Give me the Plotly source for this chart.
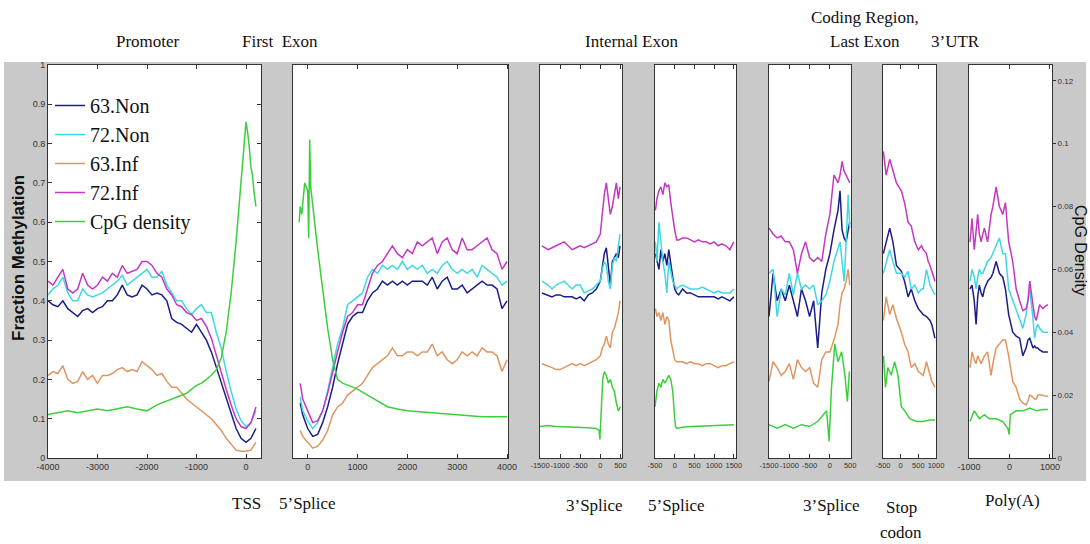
import plotly.graph_objects as go

# ---------------- data ----------------
series_names = ["63.Non", "72.Non", "63.Inf", "72.Inf", "CpG density"]
series_colors = ["#1c1c86", "#3fd8e2", "#de9560", "#c437c4", "#3ccf3c"]

panel_ranges = [[-4000, 303], [-295, 4020], [-1500, 540], [-500, 1555],
                [-1500, 520], [-500, 1000], [-1000, 1050]]
panel_ticks = [[-4000, -3000, -2000, -1000, 0], [0, 1000, 2000, 3000, 4000],
               [-1500, -1000, -500, 0, 500], [-500, 0, 500, 1000, 1500],
               [-1500, -1000, -500, 0, 500], [-500, 0, 500, 1000], [-1000, 0, 1000]]
panel_ticktext = [["-4000", "-3000", "-2000", "-1000", "0"], ["0", "1000", "2000", "3000", "4000"],
                  ["-1500", "-1000", "-500", "0", "500"], ["-500", "0", "500", "1000", "1500"],
                  ["-1500", "-1000", "-500", "0", "500"], ["-500", "0", "500", "1000"],
                  ["-1000", "0", "1000"]]
meth_ticks = [0, 0.1, 0.2, 0.3, 0.4, 0.5, 0.6, 0.7, 0.8, 0.9, 1]
meth_ticktext = ["0", "0.1", "0.2", "0.3", "0.4", "0.5", "0.6", "0.7", "0.8", "0.9", "1"]
cpg_ticks = [0, 0.02, 0.04, 0.06, 0.08, 0.1, 0.12]
cpg_ticktext = ["0", "0.02", "0.04", "0.06", "0.08", "0.1", "0.12"]

# Panel 1: Promoter / TSS
p1_x = [-4000, -3900, -3800, -3700, -3600, -3500, -3400, -3300, -3200, -3100, -3000, -2900, -2800,
        -2700, -2600, -2500, -2400, -2300, -2200, -2100, -2000, -1900, -1800, -1700, -1600, -1500,
        -1400, -1300, -1200, -1100, -1000, -900, -800, -700, -600, -500, -400, -300, -200, -100, 0, 100, 200]
p1_non63 = [0.40, 0.39, 0.385, 0.40, 0.38, 0.37, 0.36, 0.375, 0.38, 0.37, 0.38, 0.385, 0.40, 0.40, 0.415,
            0.44, 0.415, 0.41, 0.415, 0.44, 0.43, 0.415, 0.42, 0.415, 0.40, 0.355, 0.345, 0.34, 0.33, 0.32,
            0.34, 0.32, 0.30, 0.27, 0.23, 0.19, 0.15, 0.11, 0.075, 0.05, 0.04, 0.05, 0.075]
p1_non72 = [0.415, 0.43, 0.44, 0.46, 0.42, 0.40, 0.40, 0.43, 0.415, 0.41, 0.415, 0.42, 0.43, 0.44, 0.45,
            0.465, 0.44, 0.45, 0.46, 0.47, 0.48, 0.46, 0.46, 0.475, 0.44, 0.42, 0.40, 0.40, 0.38, 0.365,
            0.38, 0.39, 0.37, 0.37, 0.32, 0.28, 0.22, 0.17, 0.125, 0.095, 0.08, 0.09, 0.12]
p1_inf63 = [0.21, 0.22, 0.215, 0.235, 0.20, 0.19, 0.195, 0.22, 0.20, 0.21, 0.19, 0.21, 0.21, 0.215, 0.225,
            0.23, 0.22, 0.225, 0.22, 0.245, 0.235, 0.225, 0.21, 0.215, 0.195, 0.18, 0.18, 0.165, 0.15, 0.14,
            0.13, 0.12, 0.11, 0.10, 0.085, 0.07, 0.05, 0.035, 0.02, 0.017, 0.017, 0.02, 0.04]
p1_inf72 = [0.45, 0.44, 0.46, 0.48, 0.43, 0.42, 0.43, 0.47, 0.44, 0.43, 0.44, 0.46, 0.45, 0.47, 0.46,
            0.49, 0.47, 0.475, 0.48, 0.50, 0.50, 0.49, 0.47, 0.46, 0.43, 0.415, 0.39, 0.385, 0.37, 0.365,
            0.35, 0.355, 0.335, 0.305, 0.26, 0.215, 0.175, 0.135, 0.10, 0.08, 0.075, 0.09, 0.13]
p1_cpg_x = [-4000, -3800, -3600, -3400, -3200, -3000, -2800, -2600, -2400, -2200, -2000, -1800, -1600,
            -1400, -1200, -1000, -900, -800, -700, -600, -500, -400, -300, -200, -100, -50, 0, 30, 60,
            100, 130, 160, 200]
p1_cpg = [0.0138, 0.0144, 0.015, 0.0144, 0.015, 0.0156, 0.015, 0.0156, 0.0163, 0.0156, 0.015, 0.0169,
          0.0181, 0.0194, 0.0206, 0.0231, 0.0238, 0.025, 0.0263, 0.0281, 0.0319, 0.04, 0.0525, 0.0688,
          0.0875, 0.0975, 0.1069, 0.1038, 0.1, 0.0925, 0.09, 0.085, 0.08]

# Panel 2: First exon / 5' splice
p2_x = [-150, -100, 0, 100, 200, 300, 400, 500, 600, 700, 800, 900, 1000, 1100, 1200, 1300, 1400, 1500,
        1600, 1700, 1800, 1900, 2000, 2100, 2200, 2300, 2400, 2500, 2600, 2700, 2800, 2900, 3000, 3100,
        3200, 3300, 3400, 3500, 3600, 3700, 3800, 3900, 4000]
p2_non63 = [0.14, 0.11, 0.075, 0.055, 0.06, 0.09, 0.13, 0.18, 0.24, 0.29, 0.34, 0.36, 0.37, 0.37, 0.40,
            0.42, 0.43, 0.45, 0.44, 0.45, 0.44, 0.45, 0.44, 0.45, 0.45, 0.45, 0.44, 0.46, 0.43, 0.45, 0.46,
            0.43, 0.43, 0.44, 0.42, 0.43, 0.44, 0.45, 0.44, 0.44, 0.43, 0.38, 0.40]
p2_non72 = [0.155, 0.12, 0.095, 0.075, 0.09, 0.12, 0.17, 0.23, 0.29, 0.33, 0.39, 0.40, 0.41, 0.42, 0.46,
            0.48, 0.47, 0.49, 0.48, 0.49, 0.48, 0.50, 0.48, 0.49, 0.48, 0.49, 0.47, 0.48, 0.47, 0.49, 0.50,
            0.48, 0.47, 0.48, 0.47, 0.48, 0.46, 0.49, 0.48, 0.47, 0.46, 0.44, 0.45]
p2_inf63 = [0.07, 0.055, 0.04, 0.025, 0.03, 0.045, 0.07, 0.11, 0.13, 0.14, 0.16, 0.17, 0.18, 0.19, 0.21,
            0.23, 0.24, 0.25, 0.26, 0.28, 0.26, 0.26, 0.27, 0.27, 0.26, 0.27, 0.27, 0.29, 0.26, 0.27, 0.25,
            0.24, 0.25, 0.27, 0.26, 0.27, 0.26, 0.28, 0.27, 0.27, 0.26, 0.22, 0.25]
p2_inf72 = [0.19, 0.15, 0.12, 0.09, 0.095, 0.12, 0.165, 0.22, 0.27, 0.32, 0.36, 0.37, 0.39, 0.39, 0.43,
            0.47, 0.49, 0.50, 0.52, 0.54, 0.52, 0.51, 0.53, 0.52, 0.55, 0.54, 0.55, 0.56, 0.52, 0.55, 0.56,
            0.53, 0.52, 0.56, 0.53, 0.53, 0.54, 0.55, 0.56, 0.53, 0.52, 0.48, 0.50]
p2_cpg_x = [-170, -150, -120, -90, -60, -30, 0, 20, 40, 60, 100, 150, 200, 300, 400, 500, 600, 700, 800,
            1000, 1200, 1400, 1600, 1800, 2000, 2500, 3000, 3500, 4000]
p2_cpg = [0.075, 0.08, 0.0775, 0.0838, 0.0875, 0.0863, 0.085, 0.07, 0.1013, 0.0863, 0.08, 0.0725, 0.0663,
          0.0538, 0.0413, 0.0313, 0.025, 0.0238, 0.0231, 0.0219, 0.02, 0.0181, 0.0163, 0.0156, 0.015,
          0.0144, 0.0138, 0.0131, 0.0131]

# Panel 3: Internal exon / 3' splice
p3_x = [-1450, -1300, -1200, -1100, -1000, -900, -800, -700, -600, -500, -400, -300, -200, -100, 0, 50,
        100, 150, 200, 250, 300, 350, 400, 450, 490]
p3_non63 = [0.42, 0.415, 0.41, 0.415, 0.415, 0.41, 0.41, 0.41, 0.405, 0.41, 0.40, 0.415, 0.42, 0.43, 0.45,
            0.49, 0.52, 0.535, 0.48, 0.44, 0.50, 0.51, 0.52, 0.51, 0.54]
p3_non72 = [0.45, 0.44, 0.43, 0.44, 0.445, 0.45, 0.44, 0.43, 0.44, 0.44, 0.42, 0.425, 0.43, 0.44, 0.45,
            0.48, 0.50, 0.49, 0.45, 0.43, 0.49, 0.51, 0.50, 0.54, 0.57]
p3_inf63 = [0.24, 0.235, 0.23, 0.225, 0.225, 0.23, 0.235, 0.24, 0.235, 0.24, 0.235, 0.24, 0.245, 0.25, 0.26,
            0.28, 0.29, 0.31, 0.29, 0.28, 0.32, 0.33, 0.35, 0.37, 0.40]
p3_inf72 = [0.54, 0.53, 0.535, 0.54, 0.545, 0.55, 0.54, 0.53, 0.535, 0.54, 0.535, 0.54, 0.545, 0.55, 0.57,
            0.62, 0.67, 0.70, 0.66, 0.62, 0.64, 0.67, 0.70, 0.66, 0.69]
p3_cpg_x = [-1500, -1300, -1100, -900, -700, -500, -300, -100, -30, -10, 10, 30, 60, 100, 150, 200, 250,
            300, 350, 400, 450, 500]
p3_cpg = [0.01, 0.0103, 0.01, 0.0099, 0.01, 0.0098, 0.0096, 0.0094, 0.0088, 0.0059, 0.0113, 0.0213, 0.025,
          0.0275, 0.0263, 0.0238, 0.025, 0.0225, 0.0213, 0.0175, 0.015, 0.0163]

# Panel 4: Internal exon / 5' splice
p4_x = [-490, -450, -400, -350, -300, -250, -200, -150, -100, -50, 0, 50, 100, 200, 300, 400, 500, 600,
        700, 800, 900, 1000, 1100, 1200, 1300, 1400, 1500]
p4_non63 = [0.52, 0.50, 0.48, 0.53, 0.50, 0.52, 0.49, 0.53, 0.49, 0.46, 0.43, 0.42, 0.415, 0.43, 0.42,
            0.42, 0.415, 0.41, 0.41, 0.41, 0.41, 0.41, 0.405, 0.41, 0.405, 0.40, 0.41]
p4_non72 = [0.55, 0.50, 0.60, 0.55, 0.50, 0.47, 0.42, 0.50, 0.47, 0.45, 0.44, 0.43, 0.435, 0.44, 0.435,
            0.43, 0.43, 0.43, 0.435, 0.43, 0.425, 0.42, 0.425, 0.42, 0.42, 0.42, 0.43]
p4_inf63 = [0.38, 0.36, 0.37, 0.35, 0.37, 0.34, 0.36, 0.35, 0.30, 0.27, 0.25, 0.245, 0.245, 0.245, 0.24,
            0.245, 0.24, 0.24, 0.235, 0.24, 0.24, 0.235, 0.23, 0.235, 0.235, 0.24, 0.245]
p4_inf72 = [0.63, 0.66, 0.68, 0.69, 0.67, 0.70, 0.69, 0.695, 0.65, 0.61, 0.58, 0.555, 0.555, 0.56, 0.56,
            0.555, 0.55, 0.555, 0.55, 0.55, 0.545, 0.55, 0.54, 0.545, 0.54, 0.53, 0.55]
p4_cpg_x = [-500, -450, -400, -350, -300, -250, -200, -150, -100, -50, 0, 20, 50, 100, 200, 300, 500, 700,
            1000, 1200, 1500]
p4_cpg = [0.0163, 0.0213, 0.0238, 0.0225, 0.025, 0.0238, 0.025, 0.0263, 0.025, 0.0213, 0.0125, 0.01,
          0.0094, 0.0096, 0.0098, 0.0099, 0.01, 0.01, 0.0103, 0.0104, 0.0106]

# Panel 5: Last exon / 3' splice
p5_x = [-1500, -1400, -1300, -1200, -1100, -1000, -900, -800, -700, -600, -500, -400, -300, -200, -100,
        0, 100, 200, 250, 300, 350, 400, 450, 490]
p5_non63 = [0.36, 0.47, 0.40, 0.43, 0.40, 0.44, 0.40, 0.36, 0.43, 0.40, 0.36, 0.40, 0.28, 0.42, 0.48,
            0.52, 0.58, 0.63, 0.68, 0.58, 0.56, 0.55, 0.58, 0.60]
p5_non72 = [0.47, 0.48, 0.36, 0.43, 0.415, 0.47, 0.415, 0.47, 0.43, 0.44, 0.43, 0.44, 0.39, 0.40, 0.415,
            0.45, 0.50, 0.53, 0.55, 0.50, 0.45, 0.55, 0.67, 0.585]
p5_inf63 = [0.195, 0.245, 0.23, 0.21, 0.22, 0.24, 0.20, 0.25, 0.23, 0.22, 0.23, 0.19, 0.18, 0.25, 0.27,
            0.27, 0.30, 0.34, 0.39, 0.42, 0.43, 0.45, 0.48, 0.44]
p5_inf72 = [0.585, 0.57, 0.56, 0.565, 0.55, 0.55, 0.53, 0.47, 0.52, 0.55, 0.51, 0.50, 0.51, 0.50, 0.57,
            0.62, 0.72, 0.70, 0.72, 0.755, 0.73, 0.72, 0.71, 0.70]
p5_cpg_x = [-1500, -1300, -1100, -900, -700, -500, -300, -80, -20, 40, 120, 200, 290, 370, 430, 480]
p5_cpg = [0.0106, 0.0095, 0.0106, 0.0095, 0.0106, 0.01, 0.0116, 0.015, 0.0053, 0.0225, 0.0363, 0.0306,
          0.0338, 0.0263, 0.018, 0.0275]

# Panel 6: Stop codon
p6_x = [-490, -410, -310, -220, -120, 20, 110, 210, 300, 400, 500, 590, 640, 730, 780, 830, 880, 970]
p6_non63 = [0.52, 0.55, 0.585, 0.55, 0.49, 0.475, 0.45, 0.41, 0.43, 0.40, 0.38, 0.37, 0.365, 0.36, 0.355,
            0.35, 0.34, 0.305]
p6_non72 = [0.47, 0.50, 0.53, 0.50, 0.47, 0.47, 0.46, 0.475, 0.43, 0.44, 0.42, 0.43, 0.43, 0.48, 0.46,
            0.44, 0.43, 0.415]
p6_inf63 = [0.35, 0.41, 0.365, 0.39, 0.355, 0.32, 0.29, 0.27, 0.23, 0.24, 0.22, 0.215, 0.21, 0.245, 0.23,
            0.21, 0.195, 0.18]
p6_inf72 = [0.78, 0.72, 0.76, 0.73, 0.70, 0.68, 0.65, 0.60, 0.59, 0.55, 0.53, 0.54, 0.53, 0.52, 0.50,
            0.49, 0.475, 0.45]
p6_cpg_x = [-486, -429, -362, -267, -171, -76, 19, 114, 257, 448, 638, 829, 971]
p6_cpg = [0.0325, 0.0225, 0.0288, 0.0263, 0.0306, 0.0263, 0.0163, 0.015, 0.0125, 0.0116, 0.0116, 0.0121,
          0.0121]

# Panel 7: 3'UTR / Poly(A)
p7_x = [-975, -925, -870, -825, -785, -745, -700, -660, -620, -540, -455, -410, -330, -250, -165, -100,
        -20, 80, 165, 250, 330, 410, 455, 500, 580, 620, 660, 700, 745, 825, 870, 950]
p7_non63 = [0.43, 0.44, 0.40, 0.34, 0.41, 0.44, 0.42, 0.41, 0.43, 0.45, 0.46, 0.47, 0.50, 0.47, 0.46,
            0.43, 0.365, 0.32, 0.31, 0.305, 0.26, 0.28, 0.30, 0.305, 0.28, 0.285, 0.28, 0.28, 0.275,
            0.27, 0.27, 0.27]
p7_non72 = [0.45, 0.48, 0.46, 0.43, 0.46, 0.48, 0.47, 0.47, 0.48, 0.50, 0.51, 0.52, 0.54, 0.56, 0.52,
            0.52, 0.43, 0.40, 0.38, 0.35, 0.33, 0.365, 0.40, 0.43, 0.355, 0.305, 0.33, 0.34, 0.33, 0.32,
            0.32, 0.32]
p7_inf63 = [0.23, 0.27, 0.25, 0.24, 0.26, 0.25, 0.24, 0.25, 0.26, 0.27, 0.21, 0.24, 0.28, 0.29, 0.30,
            0.30, 0.26, 0.195, 0.18, 0.15, 0.14, 0.135, 0.145, 0.16, 0.155, 0.15, 0.15, 0.16, 0.16, 0.16,
            0.158, 0.157]
p7_inf72 = [0.55, 0.61, 0.53, 0.58, 0.62, 0.57, 0.55, 0.57, 0.585, 0.55, 0.62, 0.64, 0.69, 0.64, 0.62,
            0.65, 0.55, 0.50, 0.43, 0.40, 0.375, 0.38, 0.40, 0.45, 0.38, 0.36, 0.35, 0.37, 0.39, 0.38,
            0.385, 0.39]
p7_cpg_x = [-975, -870, -745, -620, -500, -330, -165, -40, -10, 20, 165, 330, 500, 660, 830, 950]
p7_cpg = [0.0116, 0.015, 0.0125, 0.0138, 0.0125, 0.0125, 0.0116, 0.0094, 0.0075, 0.0138, 0.015, 0.015,
          0.0159, 0.015, 0.0154, 0.0154]

panels = [
    (p1_x, [p1_non63, p1_non72, p1_inf63, p1_inf72], p1_cpg_x, p1_cpg),
    (p2_x, [p2_non63, p2_non72, p2_inf63, p2_inf72], p2_cpg_x, p2_cpg),
    (p3_x, [p3_non63, p3_non72, p3_inf63, p3_inf72], p3_cpg_x, p3_cpg),
    (p4_x, [p4_non63, p4_non72, p4_inf63, p4_inf72], p4_cpg_x, p4_cpg),
    (p5_x, [p5_non63, p5_non72, p5_inf63, p5_inf72], p5_cpg_x, p5_cpg),
    (p6_x, [p6_non63, p6_non72, p6_inf63, p6_inf72], p6_cpg_x, p6_cpg),
    (p7_x, [p7_non63, p7_non72, p7_inf63, p7_inf72], p7_cpg_x, p7_cpg),
]

top_labels = [("Promoter", 148, 42), ("First  Exon", 280, 42), ("Internal Exon", 631, 42),
              ("Coding Region,", 865, 17), ("Last Exon", 865, 42), ("3’UTR", 955, 42)]
bottom_labels = [("TSS", 246, 503), ("5’Splice", 307, 503), ("3’Splice", 594, 505),
                 ("5’Splice", 676, 505), ("3’Splice", 831, 505), ("Stop", 901, 507),
                 ("codon", 901, 532), ("Poly(A)", 1012, 500)]

# ---------------- layout geometry ----------------
W, H = 1090, 544
def fx(p): return p / W
def fy(p): return 1 - p / H

panel_px = [(48, 261), (293, 508), (540, 622), (655, 736), (769, 851), (883, 936), (969, 1052)]
panel_tick_size = [9, 9, 7.5, 7.5, 7.5, 7.5, 9]
ytop, ybot = 65, 458
ydom = [fy(ybot), fy(ytop)]

fig = go.Figure()
n = len(panels)
for i, (mx, mys, cx, cy) in enumerate(panels):
    k = i + 1
    xa = "x" if k == 1 else f"x{k}"
    ya = "y" if k == 1 else f"y{k}"
    ya2 = f"y{n + k}"
    for j, ys in enumerate(mys):
        fig.add_trace(go.Scatter(x=mx, y=ys, mode="lines", xaxis=xa, yaxis=ya,
                                 line=dict(color=series_colors[j], width=1.5),
                                 name=series_names[j], legendgroup=series_names[j],
                                 showlegend=(k == 1), hoverinfo="skip"))
    fig.add_trace(go.Scatter(x=cx, y=cy, mode="lines", xaxis=xa, yaxis=ya2,
                             line=dict(color=series_colors[4], width=1.5),
                             name=series_names[4], legendgroup=series_names[4],
                             showlegend=(k == 1), hoverinfo="skip"))

sans = "Liberation Sans, Arial"
axis_font = dict(family=sans, size=9, color="#333")
layout = {}
for i in range(n):
    k = i + 1
    xk = "xaxis" if k == 1 else f"xaxis{k}"
    yk = "yaxis" if k == 1 else f"yaxis{k}"
    a0, a1 = panel_px[i]
    layout[xk] = dict(domain=[fx(a0), fx(a1)], range=panel_ranges[i], tickvals=panel_ticks[i],
                      ticktext=panel_ticktext[i], tickangle=0, automargin=False,
                      ticks="inside", ticklen=4, tickcolor="#333", showline=True, linecolor="#333",
                      linewidth=1, mirror="ticks", showgrid=False, zeroline=False,
                      tickfont=dict(family=sans, size=panel_tick_size[i], color="#333"),
                      anchor="y" if k == 1 else f"y{k}")
    ycfg = dict(domain=ydom, range=[0, 1], showline=True, linecolor="#333", linewidth=1,
                showgrid=False, zeroline=False, automargin=False,
                anchor="x" if k == 1 else f"x{k}")
    if k == 1:
        ycfg.update(tickvals=meth_ticks, ticktext=meth_ticktext,
                    ticks="inside", ticklen=4, tickcolor="#333", mirror="ticks", tickfont=axis_font)
    else:
        ycfg.update(showticklabels=False, ticks="", mirror=True)
    layout[yk] = ycfg
    y2cfg = dict(overlaying="y" if k == 1 else f"y{k}", range=[0, 0.125], automargin=False,
                 anchor="x" if k == 1 else f"x{k}", showgrid=False, zeroline=False)
    if k == n:
        y2cfg.update(side="right", visible=True, showline=False, ticks="outside", ticklen=3,
                     tickcolor="#333", tickvals=cpg_ticks, ticktext=cpg_ticktext,
                     tickfont=dict(family=sans, size=8, color="#333"))
    else:
        y2cfg.update(visible=False)
    layout[f"yaxis{n + k}"] = y2cfg

fig.update_layout(**layout)

annotations = []
serif = "Liberation Serif, Times New Roman, serif"
for t, x, y in top_labels + bottom_labels:
    annotations.append(dict(text=t, x=fx(x), y=fy(y), xref="paper", yref="paper", showarrow=False,
                            xanchor="center", yanchor="middle",
                            font=dict(family=serif, size=17, color="#111")))
annotations.append(dict(text="<b>Fraction Methylation</b>", x=fx(18), y=fy(258), xref="paper",
                        yref="paper", showarrow=False, textangle=-90, xanchor="center",
                        yanchor="middle", font=dict(family=sans, size=17, color="#111")))
annotations.append(dict(text="CpG Density", x=fx(1080), y=fy(250), xref="paper", yref="paper",
                        showarrow=False, textangle=90, xanchor="center", yanchor="middle",
                        font=dict(family=sans, size=16, color="#111")))

shapes = [dict(type="rect", xref="paper", yref="paper", x0=fx(4), x1=fx(1086), y0=fy(481), y1=fy(62),
               fillcolor="#c9c9c9", line=dict(width=0), layer="below")]
for a0, a1 in panel_px:
    shapes.append(dict(type="rect", xref="paper", yref="paper", x0=fx(a0), x1=fx(a1),
                       y0=fy(ybot), y1=fy(ytop), fillcolor="white", line=dict(width=0), layer="below"))

fig.update_layout(
    width=W, height=H, margin=dict(l=0, r=0, t=0, b=0, autoexpand=False),
    paper_bgcolor="white", plot_bgcolor="white",
    shapes=shapes,
    annotations=annotations,
    legend=dict(x=fx(50), y=fy(86), xanchor="left", yanchor="top", bgcolor="rgba(0,0,0,0)",
                font=dict(family=serif, size=20, color="#111"), itemwidth=30, tracegroupgap=0,
                traceorder="normal"),
    showlegend=True,
)

fig.write_html("out.html")
